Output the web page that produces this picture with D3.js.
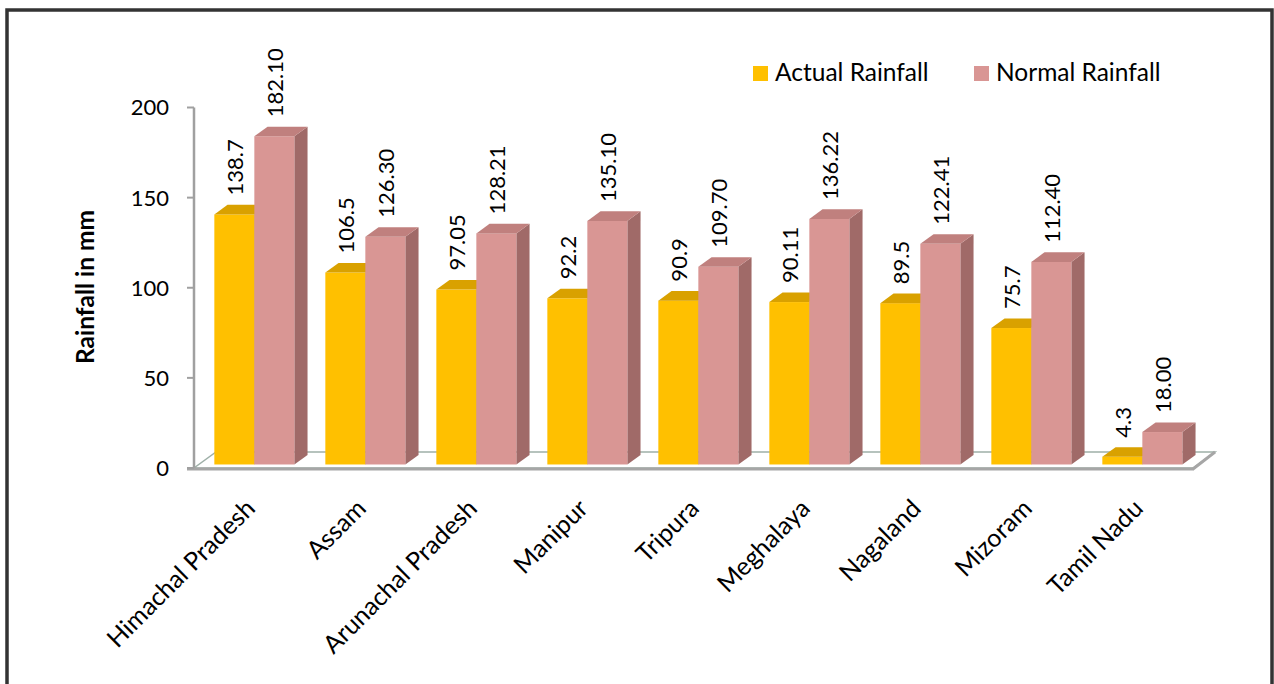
<!DOCTYPE html>
<html>
<head>
<meta charset="utf-8">
<script src="https://cdn.jsdelivr.net/npm/d3@7/dist/d3.min.js"></script>
<style>
  html, body { margin: 0; padding: 0; background: #fff; }
  svg { display: block; font-family: Lato, "Open Sans", sans-serif; }
</style>
</head>
<body>
<svg id="chart" width="1274" height="684"></svg>
<script>
// Monsoon rainfall by state (mm)
const categories = ["Himachal Pradesh", "Assam", "Arunachal Pradesh", "Manipur", "Tripura",
                    "Meghalaya", "Nagaland", "Mizoram", "Tamil Nadu"];
const actualRainfall = [138.7, 106.5, 97.05, 92.2, 90.9, 90.11, 89.5, 75.7, 4.3];
const normalRainfall = [182.10, 126.30, 128.21, 135.10, 109.70, 136.22, 122.41, 112.40, 18.00];
const actualLabels = ["138.7", "106.5", "97.05", "92.2", "90.9", "90.11", "89.5", "75.7", "4.3"];
const normalLabels = ["182.10", "126.30", "128.21", "135.10", "109.70", "136.22", "122.41", "112.40", "18.00"];
const seriesNames = ["Actual Rainfall", "Normal Rainfall"];
const yTicks = [0, 50, 100, 150, 200];

const svg = d3.select("#chart");

// outer frame
svg.append("rect")
  .attr("x", 7).attr("y", 10).attr("width", 1265).attr("height", 720)
  .attr("fill", "#fff").attr("stroke", "#333").attr("stroke-width", 3.5);

const x0 = 194, x1 = 1193;
const y = d3.scaleLinear().domain([0, 200]).range([468, 107.5]);
const x = d3.scaleBand().domain(categories).range([x0, x1]).padding(0);
const barW = 40;
const xs = d3.scaleBand().domain(seriesNames).range([0, barW * 2]).padding(0);

// depth projection: full floor depth offset
const DX = 22, DY = -16;
const fFront = 0.22, fBack = 0.82;
const proj = (px, py, f) => [px + DX * f, py + DY * f];

const colors = {
  "Actual Rainfall": { front: "#FFC000", top: "#D9A100", side: "#B98A00" },
  "Normal Rainfall": { front: "#D99694", top: "#C0807E", side: "#A06A68" }
};

// floor
const y0 = y(0);
const floorPts = [[x0, y0], [x1, y0], proj(x1, y0, 1), proj(x0, y0, 1)];
svg.append("polygon")
  .attr("points", floorPts.map(p => p.join(",")).join(" "))
  .attr("fill", "#fff").attr("stroke", "#9fb0a8").attr("stroke-width", 1.5);
// front edge of floor
svg.append("line")
  .attr("x1", x0 - 7).attr("x2", x1 + 1).attr("y1", y0 + 1).attr("y2", y0 + 1)
  .attr("stroke", "#a6a6a6").attr("stroke-width", 3);
svg.append("line")
  .attr("x1", x1).attr("y1", y0 + 1).attr("x2", proj(x1, y0, 1)[0]).attr("y2", proj(x1, y0, 1)[1])
  .attr("stroke", "#a6a6a6").attr("stroke-width", 3);

// value axis
const axisG = svg.append("g");
axisG.append("line")
  .attr("x1", x0).attr("x2", x0).attr("y1", y(200)).attr("y2", y0)
  .attr("stroke", "#a0a0a0").attr("stroke-width", 2.5);
axisG.selectAll("line.tick").data(yTicks).enter().append("line")
  .attr("class", "tick")
  .attr("x1", x0 - 7).attr("x2", x0).attr("y1", d => y(d)).attr("y2", d => y(d))
  .attr("stroke", "#a0a0a0").attr("stroke-width", 2);
axisG.selectAll("text").data(yTicks).enter().append("text")
  .attr("x", 169).attr("y", d => y(d)).attr("dy", "0.36em")
  .attr("text-anchor", "end").attr("font-size", 22).attr("fill", "#000")
  .text(d => d);

// axis title
svg.append("text")
  .attr("transform", "translate(94,287) rotate(-90)")
  .attr("text-anchor", "middle").attr("font-size", 24.5).attr("font-weight", "bold")
  .attr("fill", "#000")
  .text("Rainfall in mm");

// bars
const rows = categories.map((c, i) => ({
  cat: c,
  values: [
    { s: seriesNames[0], v: actualRainfall[i], label: actualLabels[i] },
    { s: seriesNames[1], v: normalRainfall[i], label: normalLabels[i] }
  ]
}));

const dxB = DX * (fBack - fFront), dyB = DY * (fBack - fFront);
const groups = svg.selectAll("g.cat").data(rows).enter().append("g").attr("class", "cat");

groups.each(function(row) {
  const g = d3.select(this);
  const gx = x(row.cat) + x.bandwidth() / 2 - barW + DX * fFront;
  row.values.forEach(d => {
    const left = gx + xs(d.s), right = left + xs.bandwidth();
    const base = y0 + DY * fFront;
    const top = y(d.v) + DY * fFront;
    const c = colors[d.s];
    // side face
    g.append("polygon")
      .attr("points", [[right, top], [right + dxB, top + dyB], [right + dxB, base + dyB], [right, base]]
        .map(p => p.join(",")).join(" "))
      .attr("fill", c.side);
    // front face
    g.append("rect")
      .attr("x", left).attr("y", top).attr("width", right - left).attr("height", base - top)
      .attr("fill", c.front);
    // top face
    g.append("polygon")
      .attr("points", [[left, top], [right, top], [right + dxB, top + dyB], [left + dxB, top + dyB]]
        .map(p => p.join(",")).join(" "))
      .attr("fill", c.top);
  });
  // value labels
  row.values.forEach(d => {
    const left = gx + xs(d.s);
    const cx = left + xs.bandwidth() / 2 + 9;
    const top = y(d.v) + DY * fFront;
    g.append("text")
      .attr("transform", `translate(${cx},${top - 19}) rotate(-90)`)
      .attr("font-size", 22).attr("fill", "#000")
      .text(d.label);
  });
});

// category labels
svg.selectAll("text.cat").data(categories).enter().append("text")
  .attr("class", "cat")
  .attr("transform", d => `translate(${x(d) + x.bandwidth() / 2 + 7},${510}) rotate(-45)`)
  .attr("text-anchor", "end").attr("font-size", 25).attr("fill", "#000")
  .text(d => d);

// legend
const legend = svg.append("g");
const legendX = [753, 974];
seriesNames.forEach((s, i) => {
  legend.append("rect")
    .attr("x", legendX[i]).attr("y", 66).attr("width", 15).attr("height", 15)
    .attr("fill", colors[s].front);
  legend.append("text")
    .attr("x", legendX[i] + 22).attr("y", 81)
    .attr("font-size", 24.5).attr("fill", "#000")
    .text(s);
});
</script>
</body>
</html>
